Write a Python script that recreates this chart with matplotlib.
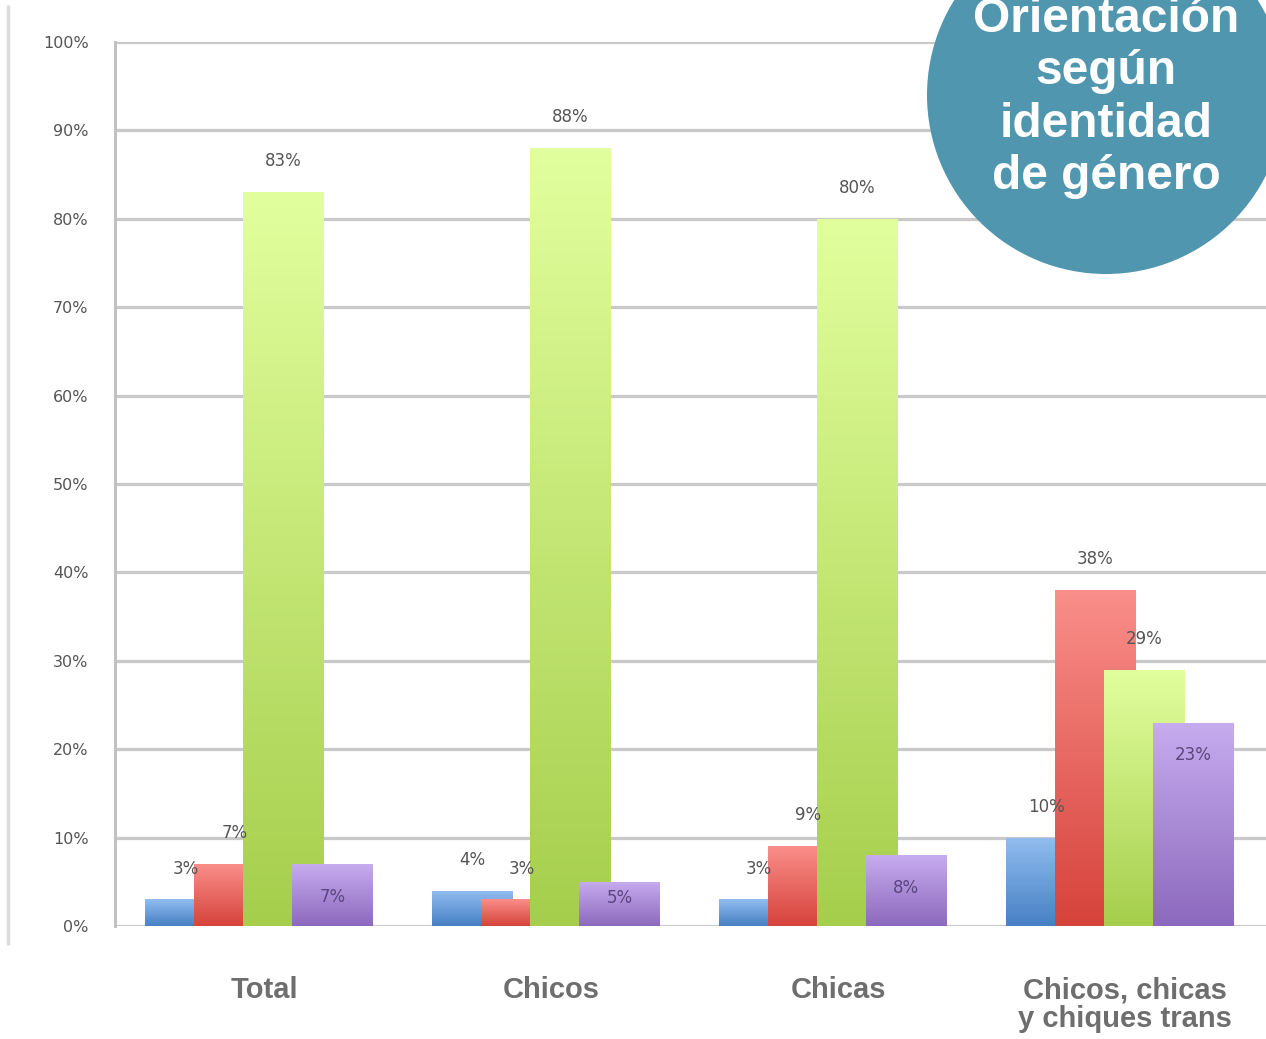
import numpy as np
import matplotlib
matplotlib.use("Agg")
import matplotlib.pyplot as plt
from matplotlib.colors import LinearSegmentedColormap
from matplotlib.patches import Circle

groups = ["Total", "Chicos", "Chicas", "Chicos, chicas\ny chiques trans"]
azul = [3, 4, 3, 10]
rojo = [7, 3, 9, 38]
verde = [83, 88, 80, 29]
morado = [7, 5, 8, 23]
yticks = list(range(0, 101, 10))
titulo = ["Orientación", "según", "identidad", "de género"]

series = [azul, rojo, verde, morado]
# (top colour, bottom colour) for each series' gradient
grad = [("#92BDF0", "#4680C4"),
        ("#FA8E8A", "#D6433B"),
        ("#E2FF9E", "#A6CE4C"),
        ("#C7ACEF", "#8C69BD")]

W, H = 1266, 1039
fig = plt.figure(figsize=(W / 100, H / 100), dpi=100)
ax = fig.add_axes([115 / W, 1 - 926 / H, (W - 115) / W, (926 - 42) / H])

x = np.arange(len(groups))
width, step = 0.282, 0.171

ramp = np.linspace(1, 0, 256).reshape(-1, 1)
for i, (vals, (top, bot)) in enumerate(zip(series, grad)):
    cmap = LinearSegmentedColormap.from_list(f"g{i}", [bot, top])
    xs = x + (i - 1.5) * step
    bars = ax.bar(xs, vals, width, color=bot, zorder=3 + 2 * i, linewidth=0)
    for b in bars:
        x0, y0 = b.get_x(), b.get_y()
        im = ax.imshow(ramp, cmap=cmap, aspect="auto", zorder=3 + 2 * i,
                       extent=[x0, x0 + b.get_width(), y0, y0 + b.get_height()])
        im.set_clip_path(b)
    for xi, v in zip(xs, vals):
        if i == 3:
            ax.text(xi, max(v - 3.7, 3.2), f"{v}%", ha="center", va="center",
                    fontsize=12, color="#5B4580", zorder=20)
        else:
            ax.text(xi, v + 3.5, f"{v}%", ha="center", va="center",
                    fontsize=12, color="#555555", zorder=20)

ax.set_xlim(-0.502, 3.51)
ax.set_ylim(0, 100)
ax.set_yticks(yticks)
ax.set_yticklabels([f"{t}%" for t in yticks], fontsize=11.5, color="#555555")
ax.tick_params(axis="y", length=0, pad=19)
ax.set_xticks([])
for t in yticks:
    ax.axhline(t, color="#C9C9C9", lw=2.3, zorder=1)
for s in ["top", "right", "bottom"]:
    ax.spines[s].set_visible(False)
ax.spines["left"].set_color("#C2C2C2")
ax.spines["left"].set_linewidth(2.2)

# category names under the groups
for xi, name in zip(x, groups):
    ax.text(xi + 0.02, -5.7, name, ha="center", va="top", fontsize=21,
            fontweight="bold", color="#6E6E6E", linespacing=1.05,
            family="Liberation Sans", clip_on=False)

# overlay in pixel coordinates for the badge and outer frame line
ov = fig.add_axes([0, 0, 1, 1], zorder=10)
ov.set_xlim(0, W)
ov.set_ylim(H, 0)
ov.axis("off")
ov.plot([8, 8], [5, 945], color="#DCDCDC", lw=2.5, solid_capstyle="butt")
ov.add_patch(Circle((1106, 95), 179, color="#5096AE", lw=0))
for line, yb in zip(titulo, [32, 84, 137, 189]):
    ov.text(1106, yb, line, ha="center", va="baseline", fontsize=34.5,
            fontweight="bold", color="white", family="Liberation Sans")

fig.savefig("out.png", dpi=100)
